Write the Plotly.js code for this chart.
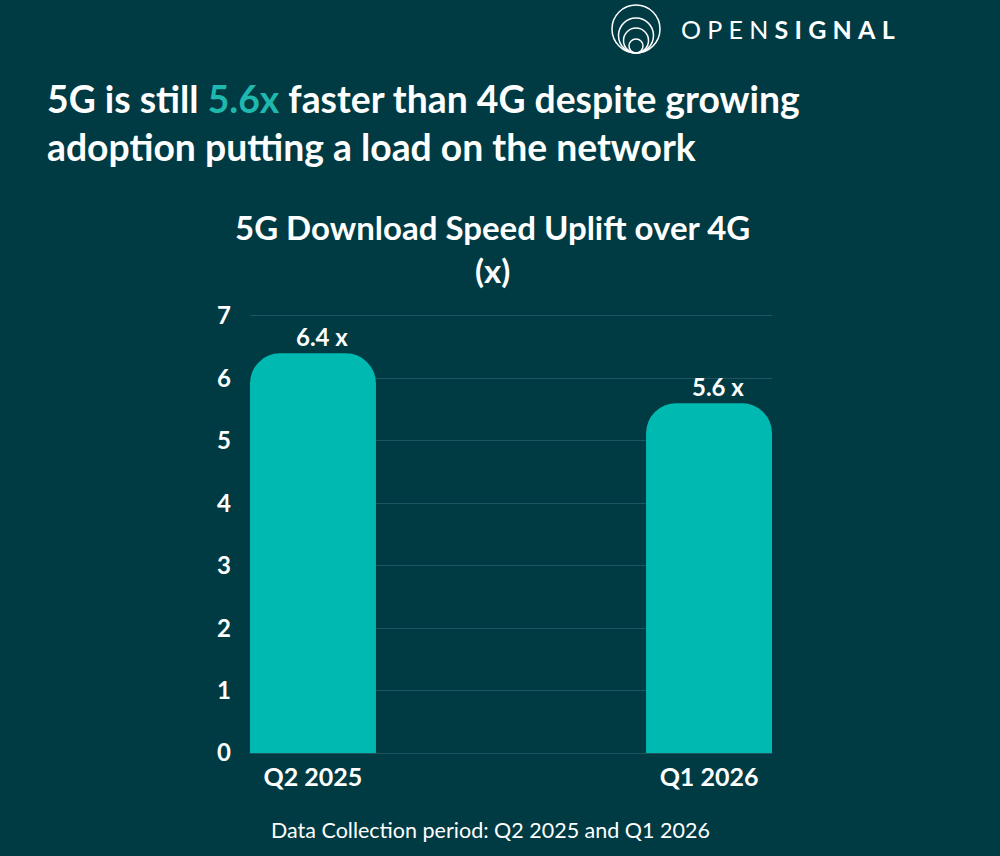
<!DOCTYPE html>
<html>
<head>
<meta charset="utf-8">
<script src="https://cdn.plot.ly/plotly-3.0.1.min.js"></script>
<style>
html,body{margin:0;padding:0;background:#003b44;}
#chart{width:1000px;height:856px;}
</style>
</head>
<body>
<div id="chart"></div>
<script>
var categories = ["Q2 2025", "Q1 2026"];
var upliftValues = [6.4, 5.6];
var valueLabels = ["6.4 x", "5.6 x"];
var yTickValues = [0, 1, 2, 3, 4, 5, 6, 7];

var BG = "#003b44";
var TEAL = "#00b9b1";
var FONT = "Lato, 'Open Sans', sans-serif";

var MT = 314, MB = 103, ML = 250, MR = 228;

var trace = {
  type: "bar",
  x: categories,
  y: upliftValues,
  width: 0.318,
  marker: {color: TEAL},
  hoverinfo: "skip"
};

var layout = {
  width: 1000,
  height: 856,
  paper_bgcolor: BG,
  plot_bgcolor: BG,
  margin: {l: ML, r: MR, t: MT, b: MB},
  showlegend: false,
  barcornerradius: 30,
  xaxis: {
    type: "category",
    range: [-0.159, 1.159],
    showgrid: false,
    zeroline: false,
    showline: false,
    ticks: "",
    tickfont: {family: FONT, size: 25, color: "#ffffff", weight: 700},
    ticklabelstandoff: 7
  },
  yaxis: {
    range: [0, 7.03],
    tickvals: yTickValues,
    showgrid: true,
    gridcolor: "#1d5660",
    gridwidth: 1,
    zeroline: true,
    zerolinecolor: "#1d5660",
    showline: false,
    ticks: "",
    ticklabelstandoff: 18,
    tickfont: {family: FONT, size: 24, color: "#ffffff", weight: 700}
  },
  annotations: [
    {xref: "paper", yref: "paper", x: 0.4655, y: 1, yshift: 66, xanchor: "center", yanchor: "middle",
     showarrow: false, align: "center",
     text: "<b>5G Download Speed Uplift over 4G</b><br><b>(x)</b>",
     font: {family: FONT, size: 33, color: "#ffffff"}},
    {xref: "paper", yref: "paper", x: -0.3927, y: 1, yshift: 192, xanchor: "left", yanchor: "middle",
     showarrow: false, align: "left",
     text: "<b>5G is still <span style='color:#1fb8af'>5.6x</span> faster than 4G despite growing</b><br><b>adoption putting a load on the network</b>",
     font: {family: FONT, size: 37.3, color: "#ffffff"}},
    {xref: "paper", yref: "paper", x: 0.46, y: 0, yshift: -77, xanchor: "center", yanchor: "middle",
     showarrow: false,
     text: "Data Collection period: Q2 2025 and Q1 2026",
     font: {family: FONT, size: 21.5, color: "#ffffff"}},
    {xref: "paper", yref: "paper", x: 0.822, y: 1, yshift: 285, xanchor: "left", yanchor: "middle",
     showarrow: false,
     text: "O\u2009\u2009P\u2009\u2009E\u2009\u2009N\u2009\u2009<b>S\u2009\u2009I\u2009\u2009G\u2009\u2009N\u2009\u2009A\u2009\u2009L</b>",
     font: {family: FONT, size: 25, color: "#ffffff"}}
  ],
  shapes: []
};

// value labels above bars, built from the data arrays
categories.forEach(function(c, i){
  layout.annotations.push({
    xref: "x", yref: "y", x: c, y: upliftValues[i],
    xanchor: "center", yanchor: "middle", xshift: 9, yshift: 17,
    showarrow: false, text: "<b>" + valueLabels[i] + "</b>",
    font: {family: FONT, size: 24, color: "#ffffff"}
  });
});

// logo rings: nested circles sharing a bottom point (pixel positions converted to paper)
var logoRings = [24, 17.5, 12.5, 7];
var plotW = 1000 - ML - MR, plotH = 856 - MT - MB;
function px2x(px){ return (px - ML) / plotW; }
function py2y(py){ return (856 - MB - py) / plotH; }
var cx = 636, bottom = 53;
logoRings.forEach(function(r){
  layout.shapes.push({
    type: "circle", xref: "paper", yref: "paper",
    x0: px2x(cx - r), x1: px2x(cx + r),
    y0: py2y(bottom), y1: py2y(bottom - 2 * r),
    line: {color: "#ffffff", width: 1.5}, fillcolor: "rgba(0,0,0,0)"
  });
});

Plotly.newPlot("chart", [trace], layout, {displayModeBar: false, staticPlot: true});
</script>
</body>
</html>
